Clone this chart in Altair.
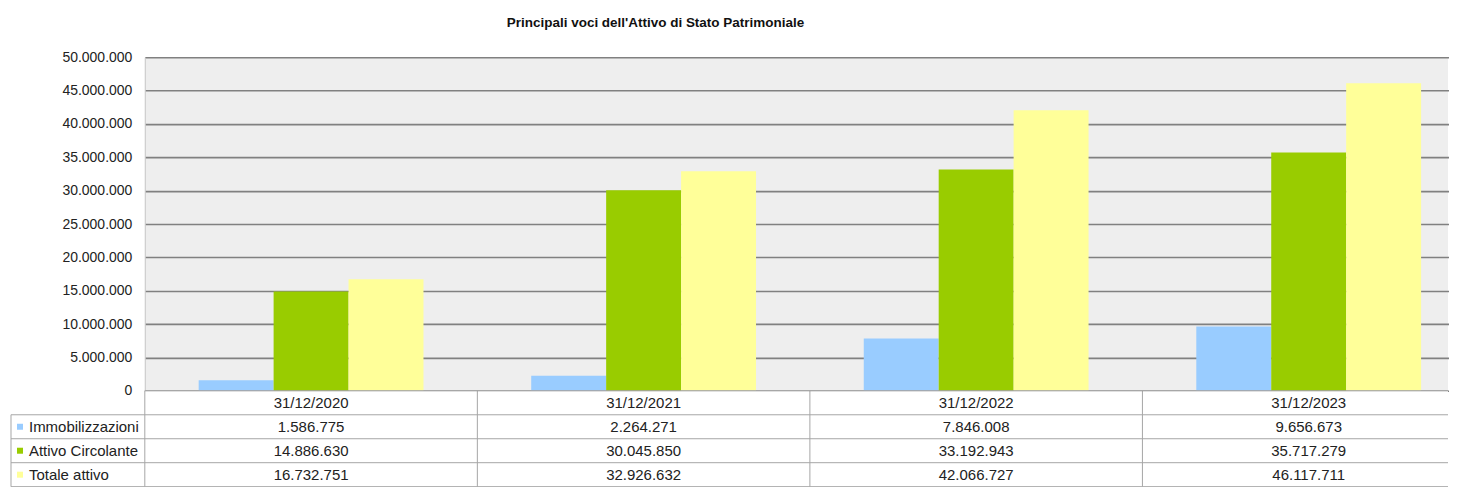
import altair as alt
import pandas as pd

categories = ["31/12/2020", "31/12/2021", "31/12/2022", "31/12/2023"]
series = ["Immobilizzazioni", "Attivo Circolante", "Totale attivo"]
immobilizzazioni = [1586775, 2264271, 7846008, 9656673]
attivo_circolante = [14886630, 30045850, 33192943, 35717279]
totale_attivo = [16732751, 32926632, 42066727, 46117711]
colors = ["#99CCFF", "#99CC00", "#FFFF99"]
y_ticks = [0, 5000000, 10000000, 15000000, 20000000, 25000000,
           30000000, 35000000, 40000000, 45000000, 50000000]
title_text = "Principali  voci dell'Attivo di Stato Patrimoniale"

values = {series[0]: immobilizzazioni, series[1]: attivo_circolante, series[2]: totale_attivo}
rows = []
for s in series:
    for c, v in zip(categories, values[s]):
        rows.append({"cat": c, "series": s, "value": v,
                     "label": f"{v:,}".replace(",", ".")})
df = pd.DataFrame(rows)
header = pd.DataFrame({"cat": categories, "series": ["header"] * 4, "label": categories})
table_df = pd.concat([header, df[["cat", "series", "label"]]], ignore_index=True)
row_order = ["header"] + series

W = 1305
BAND_RANGE = 1332
H = 334
ROW_H = 24
TH = ROW_H * 4
LEFT = -134
FONT = "Liberation Sans, Arial, sans-serif"
LINE = "#a6a6a6"

bars = alt.Chart(df).mark_bar().encode(
    x=alt.X("cat:N", sort=categories, axis=None,
            scale=alt.Scale(range=[0, BAND_RANGE], paddingInner=0.324, paddingOuter=0.162)),
    xOffset=alt.XOffset("series:N", sort=series,
                        scale=alt.Scale(paddingInner=0, paddingOuter=0)),
    y=alt.Y("value:Q", scale=alt.Scale(domain=[0, 50000000], nice=False),
            axis=alt.Axis(values=y_ticks, title=None,
                          labelExpr="join(split(format(datum.value, ','), ','), '.')",
                          grid=True, gridColor="#808080", gridWidth=1.6, ticks=False,
                          domainColor="#c8c8c8", labelPadding=13, labelFontSize=14,
                          labelColor="#222222", labelFont=FONT)),
    color=alt.Color("series:N", scale=alt.Scale(domain=series, range=colors), legend=None),
).properties(width=W, height=H, view=alt.ViewBackground(fill="#EEEEEE", stroke=None))

xt_scale = alt.Scale(range=[0, BAND_RANGE], paddingInner=0, paddingOuter=0)
yt_scale = alt.Scale(domain=row_order, paddingInner=0, paddingOuter=0)

texts = alt.Chart(table_df).mark_text(fontSize=15, font=FONT, color="#222222").encode(
    x=alt.X("cat:N", sort=categories, axis=None, scale=xt_scale),
    y=alt.Y("series:N", sort=row_order, axis=None, scale=yt_scale),
    text="label:N",
)

cat_df = pd.DataFrame({"cat": categories})
vrules = alt.Chart(cat_df).mark_rule(color=LINE, strokeWidth=1).encode(
    x=alt.X("cat:N", sort=categories, axis=None, scale=xt_scale, bandPosition=0),
    y=alt.value(0), y2=alt.value(TH),
)

ser_df = pd.DataFrame({"series": series})
hrules = alt.Chart(ser_df).mark_rule(color=LINE, strokeWidth=1).encode(
    y=alt.Y("series:N", sort=row_order, axis=None, scale=yt_scale, bandPosition=0),
    x=alt.value(LEFT), x2=alt.value(W),
)

one = pd.DataFrame({"k": [0]})
top_rule = alt.Chart(one).mark_rule(color="#999999", strokeWidth=1).encode(
    y=alt.value(0), x=alt.value(0), x2=alt.value(W))
bottom_rule = alt.Chart(one).mark_rule(color=LINE, strokeWidth=1).encode(
    y=alt.value(TH), x=alt.value(LEFT), x2=alt.value(W))
left_rule = alt.Chart(one).mark_rule(color=LINE, strokeWidth=1).encode(
    x=alt.value(LEFT), y=alt.value(ROW_H), y2=alt.value(TH))

row_labels = alt.Chart(ser_df).mark_text(fontSize=15, font=FONT, color="#222222",
                                         align="left").encode(
    x=alt.value(LEFT + 18),
    y=alt.Y("series:N", sort=row_order, axis=None, scale=yt_scale),
    text="series:N",
)
squares = alt.Chart(ser_df).mark_point(shape="square", filled=True, size=36, opacity=1).encode(
    x=alt.value(LEFT + 9),
    y=alt.Y("series:N", sort=row_order, axis=None, scale=yt_scale),
    color=alt.Color("series:N", scale=alt.Scale(domain=series, range=colors), legend=None),
)

table = alt.layer(vrules, hrules, top_rule, bottom_rule, left_rule, texts,
                  row_labels, squares).properties(
    width=W, height=TH, view=alt.ViewBackground(fill="white", stroke=None))

chart = alt.vconcat(bars, table, spacing=0, bounds="flush").resolve_scale(
    x="independent", y="independent"
).properties(
    title=alt.TitleParams(text=title_text, font="Liberation Sans, Arial, sans-serif",
                          fontWeight="bold", fontSize=13.5, color="#111111",
                          anchor="start", dx=497, offset=21),
    padding={"left": 2, "top": 7, "right": 0, "bottom": 0},
).configure_view(stroke=None)

chart.save("out.html", embed_options={"renderer": "svg", "actions": False})
